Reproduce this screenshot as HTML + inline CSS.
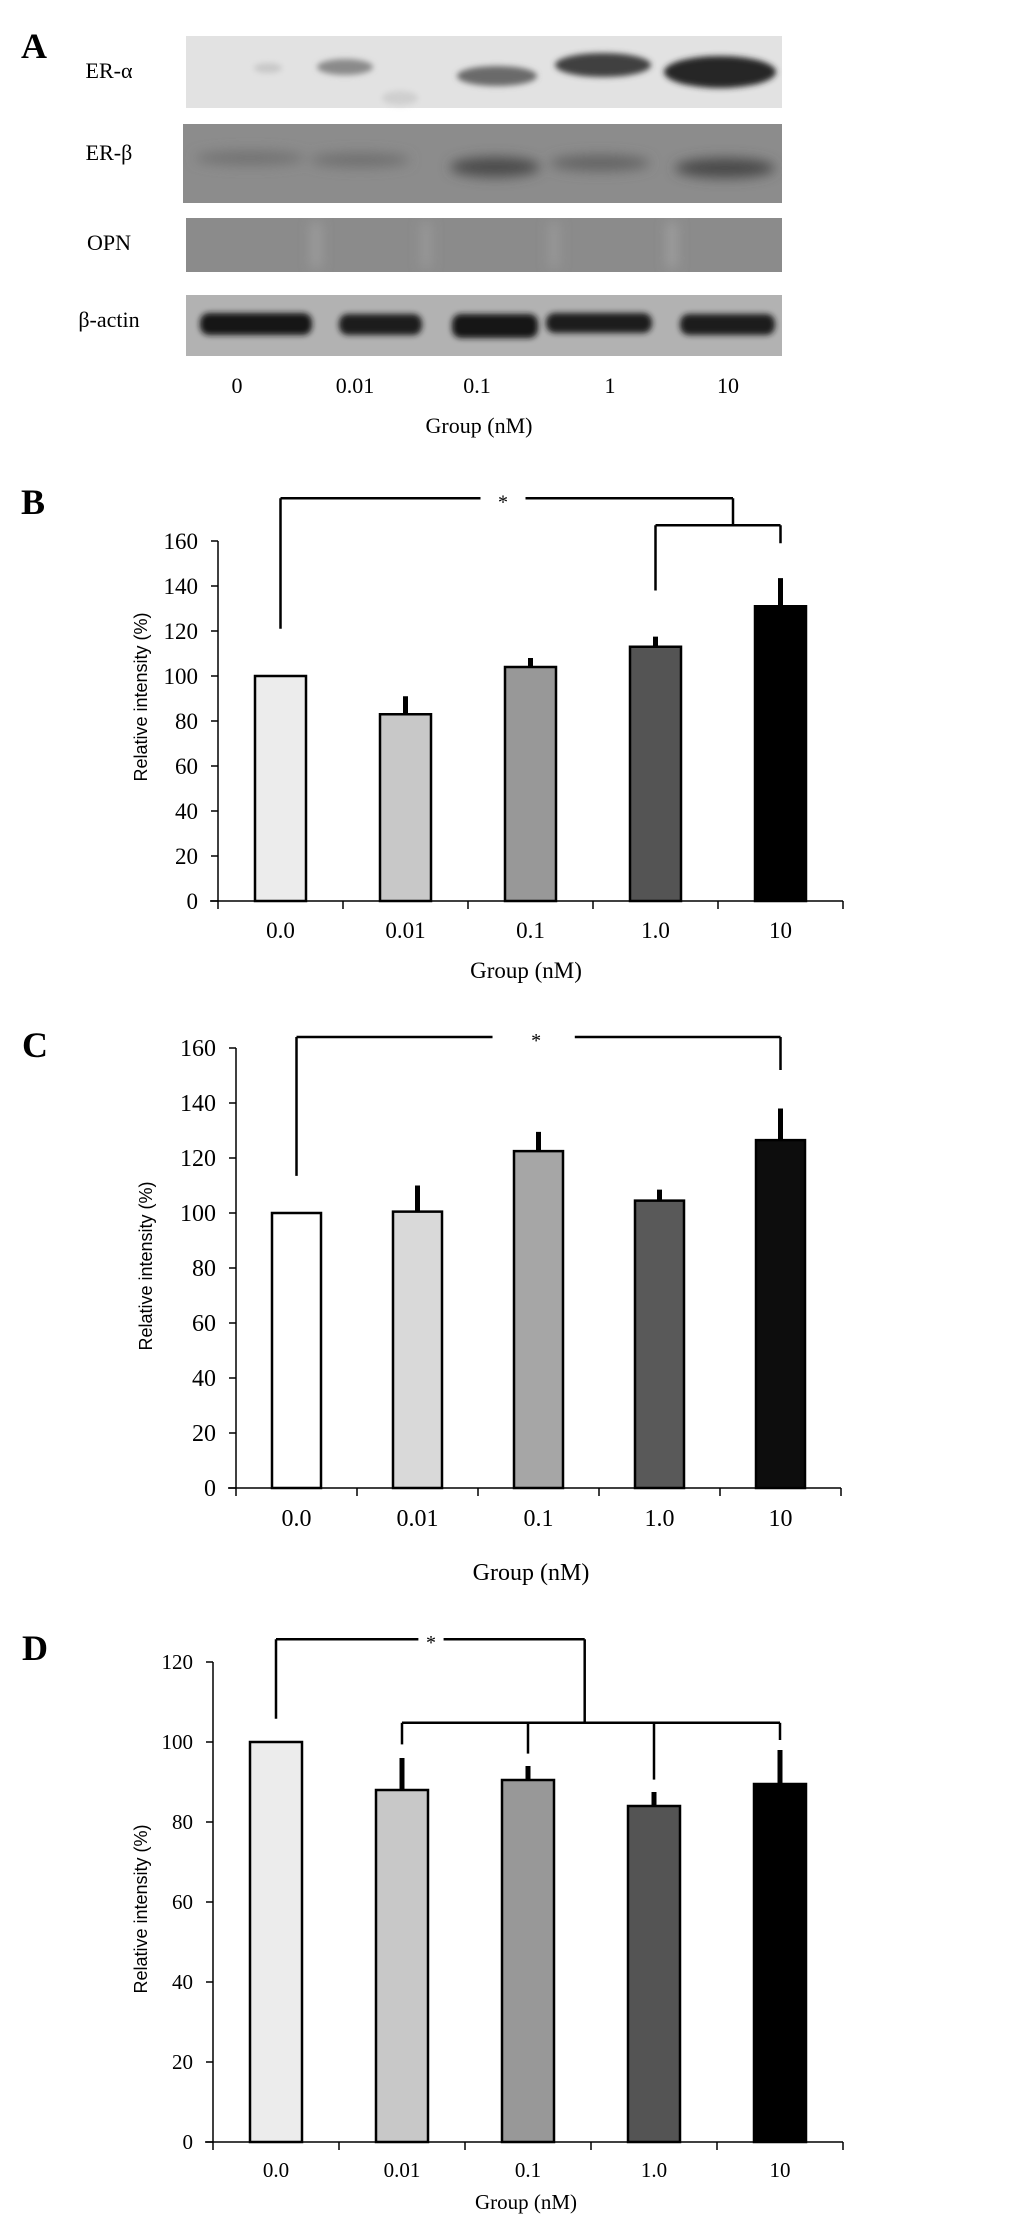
<!DOCTYPE html>
<html><head><meta charset="utf-8"><style>
html,body{margin:0;padding:0;background:#fff;}
body{width:1033px;height:2218px;position:relative;overflow:hidden;}
svg{position:absolute;left:0;top:0;}
</style></head><body>
<svg id="fig" width="1033" height="2218" viewBox="0 0 1033 2218" xmlns="http://www.w3.org/2000/svg">
<defs>
<filter id="b3" x="-30%" y="-60%" width="160%" height="220%"><feGaussianBlur stdDeviation="3"/></filter>
<filter id="b6" x="-30%" y="-80%" width="160%" height="260%"><feGaussianBlur stdDeviation="6"/></filter>
<clipPath id="cb"><rect x="183" y="124" width="599" height="79"/></clipPath>
<clipPath id="co"><rect x="186" y="218" width="596" height="54"/></clipPath>
</defs>

<!-- Panel A -->
<g font-family="'Liberation Serif', serif">
<text x="21" y="58" font-size="36" font-weight="bold">A</text>
<text x="109" y="78" font-size="22" text-anchor="middle">ER-α</text>
<text x="109" y="160" font-size="22" text-anchor="middle">ER-β</text>
<text x="109" y="250" font-size="22" text-anchor="middle">OPN</text>
<text x="109" y="327" font-size="22" text-anchor="middle">β-actin</text>

<g>
<rect x="186" y="36" width="596" height="72" fill="#e2e2e2"/>
<g filter="url(#b3)">
<ellipse cx="268" cy="68" rx="14" ry="5" fill="#c8c8c8"/>
<ellipse cx="345" cy="67" rx="28" ry="8" fill="#8a8a8a"/>
<ellipse cx="400" cy="98" rx="18" ry="7" fill="#cfcfcf"/>
<ellipse cx="497" cy="76" rx="40" ry="10" fill="#6a6a6a"/>
<ellipse cx="603" cy="65" rx="48" ry="12" fill="#3f3f3f"/>
<ellipse cx="720" cy="72" rx="56" ry="16" fill="#262626"/>
</g>
</g>
<g>
<rect x="183" y="124" width="599" height="79" fill="#8c8c8c"/>
<g filter="url(#b6)" clip-path="url(#cb)">
<ellipse cx="250" cy="158" rx="55" ry="7" fill="#727272"/>
<ellipse cx="360" cy="160" rx="50" ry="7" fill="#6f6f6f"/>
<ellipse cx="495" cy="167" rx="45" ry="10" fill="#4c4c4c"/>
<ellipse cx="600" cy="163" rx="50" ry="8" fill="#636363"/>
<ellipse cx="725" cy="168" rx="50" ry="10" fill="#4a4a4a"/>
</g>
</g>
<g>
<rect x="186" y="218" width="596" height="54" fill="#8b8b8b"/>
<g filter="url(#b6)" clip-path="url(#co)">
<rect x="312" y="222" width="8" height="46" fill="#a2a2a2"/>
<rect x="422" y="222" width="8" height="46" fill="#9c9c9c"/>
<rect x="550" y="222" width="8" height="46" fill="#9c9c9c"/>
<rect x="668" y="222" width="8" height="46" fill="#a4a4a4"/>
</g>
</g>
<g>
<rect x="186" y="295" width="596" height="61" fill="#b2b2b2"/>
<g filter="url(#b3)">
<rect x="200" y="313" width="112" height="22" rx="9" fill="#141414"/>
<rect x="339" y="314" width="83" height="21" rx="9" fill="#1a1a1a"/>
<rect x="452" y="314" width="86" height="24" rx="9" fill="#141414"/>
<rect x="546" y="313" width="106" height="20" rx="9" fill="#1e1e1e"/>
<rect x="680" y="314" width="95" height="21" rx="9" fill="#1a1a1a"/>
</g>
</g>
<g font-size="22" text-anchor="middle">
<text x="237" y="393">0</text>
<text x="355" y="393">0.01</text>
<text x="477" y="393">0.1</text>
<text x="610" y="393">1</text>
<text x="728" y="393">10</text>
<text x="479" y="433">Group (nM)</text>
</g>
</g>

<g id="chartB"></g>
<g id="chartC"></g>
<g id="chartD"></g>
</svg>
<script>
// Panel B data
const bCategories = ["0.0","0.01","0.1","1.0","10"];
const bValues = [100, 83, 104, 113, 131];
const bErrors = [0, 8, 4, 4.5, 12.5];
const bTicks = [0,20,40,60,80,100,120,140,160];
// Panel C data
const cCategories = ["0.0","0.01","0.1","1.0","10"];
const cValues = [100, 100.5, 122.5, 104.5, 126.5];
const cErrors = [0, 9.5, 7, 4, 11.5];
const cTicks = [0,20,40,60,80,100,120,140,160];
// Panel D data
const dCategories = ["0.0","0.01","0.1","1.0","10"];
const dValues = [100, 88, 90.5, 84, 89.5];
const dErrors = [0, 8, 3.5, 3.5, 8.5];
const dTicks = [0,20,40,60,80,100,120];

const NS = "http://www.w3.org/2000/svg";
function mk(parent, tag, attrs, text){
  const e = document.createElementNS(NS, tag);
  for (const k in attrs) e.setAttribute(k, attrs[k]);
  if (text !== undefined) e.textContent = text;
  parent.appendChild(e);
  return e;
}

function drawChart(g, cfg, cats, vals, errs, ticks){
  const yMax = ticks[ticks.length-1];
  const yS = v => cfg.y0 - v * (cfg.y0 - cfg.yTop) / yMax;
  const xS = i => cfg.x0 + cfg.step * (i + 0.5);
  const xR = cfg.x0 + cfg.step * cats.length;

  const letter = mk(g, "text", {x: cfg.lx, y: cfg.ly, "font-size": 36, "font-weight": "bold", "font-family": "'Liberation Serif', serif"}, cfg.letter);
  
  

  vals.forEach((v, i) => {
    const r = mk(g, "rect", {x: xS(i) - cfg.bw/2, y: yS(v), width: cfg.bw, height: yS(0) - yS(v), fill: cfg.colors[i], stroke: "#000", "stroke-width": 2.5});
    
    
    if (errs[i] > 0) {
      const eb = mk(g, "line", {x1: xS(i), x2: xS(i), y1: yS(v), y2: yS(v + errs[i]), stroke: "#000", "stroke-width": 5});
      
      
    }
  });

  const ya = mk(g, "line", {x1: cfg.x0, x2: cfg.x0, y1: yS(yMax), y2: yS(0) + 8, stroke: "#000", "stroke-width": 1.5});
  
  
  const xa = mk(g, "line", {x1: cfg.x0 - 8, x2: xR, y1: yS(0), y2: yS(0), stroke: "#000", "stroke-width": 1.5});
  
  

  ticks.forEach(t => {
    const tl = mk(g, "line", {x1: cfg.x0 - 7, x2: cfg.x0, y1: yS(t), y2: yS(t), stroke: "#000", "stroke-width": 1.5});
    
    
    const tt = mk(g, "text", {x: cfg.x0 - 20, y: yS(t) + cfg.fs*0.34, "font-size": cfg.fs, "text-anchor": "end", "font-family": "'Liberation Serif', serif"}, String(t));
    
    
  });
  for (let i = 1; i <= cats.length; i++) {
    const xt = cfg.x0 + cfg.step * i;
    const tk = mk(g, "line", {x1: xt, x2: xt, y1: yS(0), y2: yS(0) + 8, stroke: "#000", "stroke-width": 1.5});
    
    
  }
  cats.forEach((c, i) => {
    const ct = mk(g, "text", {x: xS(i), y: cfg.catY, "font-size": cfg.fs, "text-anchor": "middle", "font-family": "'Liberation Serif', serif"}, c);
    
    
  });
  const xt = mk(g, "text", {x: cfg.gx, y: cfg.gy, "font-size": cfg.fs, "text-anchor": "middle", "font-family": "'Liberation Serif', serif"}, "Group (nM)");
  
  
  const yt = mk(g, "text", {x: 0, y: 0, "font-size": 18, "text-anchor": "middle", "font-family": "'Liberation Sans', sans-serif", transform: `translate(${cfg.tx},${cfg.ty}) rotate(-90)`}, "Relative intensity (%)");
  
  

  const bg = mk(g, "g", {stroke: "#000", "stroke-width": 2.5, fill: "none"});
  
  
  cfg.lines.forEach(L => {
    const xi = k => cfg.x0 + cfg.step * (k + 0.5);
    mk(bg, "line", {x1: xi(L[0]), x2: xi(L[2]), y1: yS(L[1]), y2: yS(L[3])});
  });
  const st = mk(g, "text", {x: cfg.x0 + cfg.step * (cfg.star[0] + 0.5), y: yS(cfg.star[1]) + 10, "font-size": 20, "text-anchor": "middle", "font-family": "'Liberation Serif', serif"}, "*");
  
  
}

drawChart(document.getElementById("chartB"), {
  letter: "B", lx: 21, ly: 514, x0: 218, step: 125, y0: 901, yTop: 541, bw: 51, fs: 23,
  catY: 938, gx: 526, gy: 978, tx: 147, ty: 697,
  colors: ["#ececec","#c8c8c8","#989898","#545454","#000000"],
  lines: [[0,179,1.6,179],[1.96,179,3.62,179],[0,179,0,121],[3.62,179,3.62,167],[3,167,4,167],[3,167,3,138],[4,167,4,159]],
  star: [1.78, 179]
}, bCategories, bValues, bErrors, bTicks);

drawChart(document.getElementById("chartC"), {
  letter: "C", lx: 22, ly: 1057, x0: 236, step: 121, y0: 1488, yTop: 1048, bw: 49, fs: 24,
  catY: 1526, gx: 531, gy: 1580, tx: 152, ty: 1266,
  colors: ["#ffffff","#d9d9d9","#a6a6a6","#595959","#0d0d0d"],
  lines: [[0,164,1.62,164],[2.3,164,4,164],[0,164,0,113.5],[4,164,4,152]],
  star: [1.98, 164]
}, cCategories, cValues, cErrors, cTicks);

drawChart(document.getElementById("chartD"), {
  letter: "D", lx: 22, ly: 1660, x0: 213, step: 126, y0: 2142, yTop: 1662, bw: 52, fs: 21,
  catY: 2177, gx: 526, gy: 2209, tx: 147, ty: 1909,
  colors: ["#ececec","#c8c8c8","#989898","#545454","#000000"],
  lines: [[0,125.7,1.13,125.7],[1.33,125.7,2.45,125.7],[0,125.7,0,105.8],[2.45,125.7,2.45,104.8],[1,104.8,4,104.8],[1,104.8,1,99.4],[2,104.8,2,97.1],[3,104.8,3,90.6],[4,104.8,4,100.5]],
  star: [1.23, 125.7]
}, dCategories, dValues, dErrors, dTicks);
</script>
</body></html>
